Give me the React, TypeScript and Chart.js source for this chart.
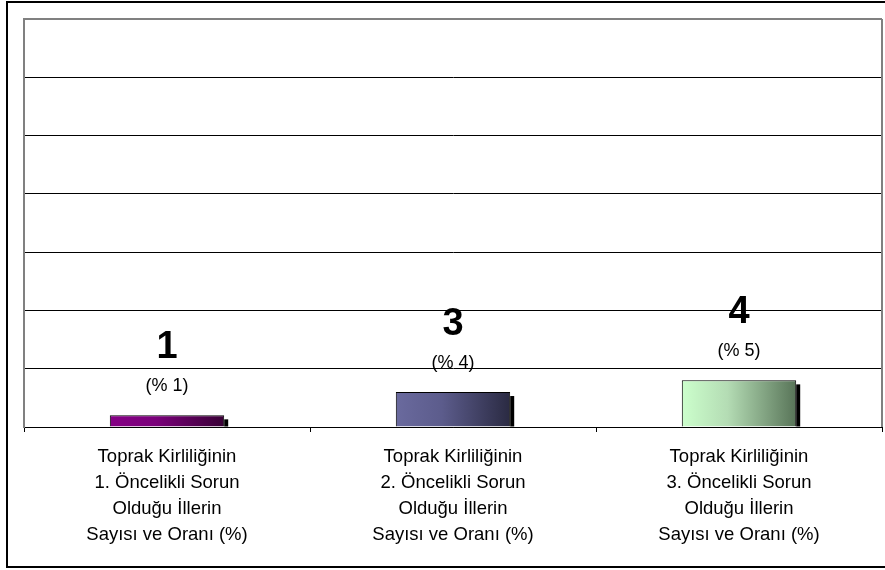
import React, { useEffect, useRef } from "react";
import { Chart, registerables } from "chart.js";

Chart.register(...registerables);

const categories: string[][] = [
  ["Toprak Kirliliğinin", "1. Öncelikli Sorun", "Olduğu İllerin", "Sayısı ve Oranı (%)"],
  ["Toprak Kirliliğinin", "2. Öncelikli Sorun", "Olduğu İllerin", "Sayısı ve Oranı (%)"],
  ["Toprak Kirliliğinin", "3. Öncelikli Sorun", "Olduğu İllerin", "Sayısı ve Oranı (%)"],
];
const counts: number[] = [1, 3, 4];
const percentLabels: string[] = ["(% 1)", "(% 4)", "(% 5)"];
const gradientStops: string[][] = [
  ["#850085", "#7a007a", "#380035"],
  ["#6a6a9e", "#5c5c8c", "#2a2a42"],
  ["#ccffcc", "#b4dcb4", "#587458"],
];
const yMax = 35;
const yStep = 5;

const FONT = "'Liberation Sans', Arial, sans-serif";

const decorPlugin = {
  id: "decor",
  beforeDatasetsDraw(chart: any) {
    const { ctx } = chart;
    const meta = chart.getDatasetMeta(0);
    ctx.save();
    ctx.fillStyle = "#000";
    meta.data.forEach((bar: any) => {
      const right = bar.x + bar.width / 2;
      const top = bar.y;
      const base = bar.base;
      ctx.fillRect(right, top + 4, 4, base - top - 4);
    });
    ctx.restore();
  },
  afterDatasetsDraw(chart: any) {
    const { ctx, chartArea } = chart;
    const meta = chart.getDatasetMeta(0);
    ctx.save();
    ctx.strokeStyle = "#808080";
    ctx.lineWidth = 2;
    ctx.beginPath();
    ctx.moveTo(chartArea.right, chartArea.top);
    ctx.lineTo(chartArea.right, chartArea.bottom);
    ctx.stroke();
    ctx.fillStyle = "#000";
    ctx.textAlign = "center";
    ctx.textBaseline = "middle";
    meta.data.forEach((bar: any, i: number) => {
      ctx.font = `bold 38px ${FONT}`;
      ctx.fillText(String(counts[i]), bar.x, bar.y - 68);
      ctx.font = `18px ${FONT}`;
      ctx.fillText(percentLabels[i], bar.x, bar.y - 29);
    });
    ctx.restore();
  },
};

export default function App() {
  const canvasRef = useRef<HTMLCanvasElement | null>(null);

  useEffect(() => {
    const canvas = canvasRef.current;
    if (!canvas) return;
    const chart = new Chart(canvas, {
      type: "bar",
      data: {
        labels: categories,
        datasets: [
          {
            data: counts,
            backgroundColor: (c: any) => {
              const ch = c.chart;
              const xs = ch.scales && ch.scales.x;
              const stops = gradientStops[c.dataIndex] || gradientStops[0];
              if (!ch.chartArea || !xs) return stops[0];
              const center = xs.getPixelForValue(c.dataIndex);
              const w = (xs.width / categories.length) * 0.4;
              const g = ch.ctx.createLinearGradient(center - w / 2, 0, center + w / 2, 0);
              g.addColorStop(0, stops[0]);
              g.addColorStop(0.4, stops[1]);
              g.addColorStop(1, stops[2]);
              return g;
            },
            borderColor: "#000",
            borderWidth: 1,
            barPercentage: 0.4,
            categoryPercentage: 1,
          },
        ],
      },
      options: {
        animation: false,
        responsive: false,
        maintainAspectRatio: false,
        layout: { padding: { left: 24, top: 19, right: 3, bottom: 0 } },
        plugins: {
          legend: { display: false },
          tooltip: { enabled: false },
        },
        scales: {
          x: {
            grid: {
              offset: true,
              drawOnChartArea: false,
              drawTicks: true,
              tickLength: 5,
              color: "#000",
              tickColor: "#000",
            },
            border: { display: true, color: "#000", width: 1 },
            ticks: {
              color: "#000",
              padding: 12,
              maxRotation: 0,
              autoSkip: false,
              font: { family: FONT, size: 18.5, lineHeight: "26px" } as any,
            },
            afterFit: (scale: any) => {
              scale.height = 143;
            },
          },
          y: {
            min: 0,
            max: yMax,
            ticks: { display: false, stepSize: yStep },
            grid: {
              drawTicks: false,
              color: (c: any) => (c.tick && c.tick.value === yMax ? "#808080" : "#000"),
              lineWidth: (c: any) => (c.tick && c.tick.value === yMax ? 2 : 1),
            },
            border: { display: true, color: "#808080", width: 2 },
            afterFit: (scale: any) => {
              scale.width = 0;
            },
          },
        },
      },
      plugins: [decorPlugin],
    } as any);
    return () => chart.destroy();
  }, []);

  return (
    <div style={{ position: "fixed", left: 0, top: 0, width: 885, height: 570, background: "#fff" }}>
      <canvas ref={canvasRef} width={885} height={570} style={{ position: "absolute", left: 0, top: 0 }} />
      <div
        style={{
          position: "absolute",
          left: 6,
          top: 1,
          width: 890,
          height: 567,
          boxSizing: "border-box",
          border: "2px solid #000",
          pointerEvents: "none",
        }}
      />
    </div>
  );
}
